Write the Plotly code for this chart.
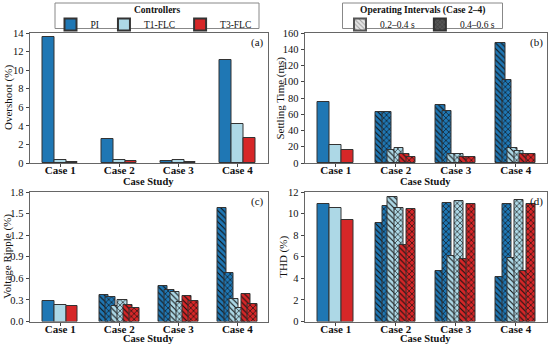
import plotly.graph_objects as go

# ---------------- data ----------------
cases = ["Case 1", "Case 2", "Case 3", "Case 4"]
controllers = ["PI", "T1-FLC", "T3-FLC"]
intervals = ["0.2–0.4 s", "0.4–0.6 s"]

# (a) Overshoot (%) - one value per case
overshoot_pi = [13.6, 2.6, 0.25, 11.1]
overshoot_t1 = [0.3, 0.3, 0.3, 4.25]
overshoot_t3 = [0.15, 0.25, 0.15, 2.7]

# (b) Settling time (ms): Case 1 (PI, T1, T3), then Cases 2-4 per interval
settling_case1 = [74.5, 22.5, 15.5]
settling_pi_a = [62.5, 71.5, 147.5]
settling_pi_b = [62.5, 63.5, 102.0]
settling_t1_a = [15.5, 11.5, 18.5]
settling_t1_b = [19.0, 11.5, 14.5]
settling_t3_a = [11.5, 7.5, 11.0]
settling_t3_b = [7.8, 7.0, 10.8]

# (c) Voltage ripple (%)
ripple_case1 = [0.285, 0.23, 0.22]
ripple_pi_a = [0.375, 0.495, 1.58]
ripple_pi_b = [0.335, 0.435, 0.675]
ripple_t1_a = [0.215, 0.405, 0.31]
ripple_t1_b = [0.30, 0.265, 0.19]
ripple_t3_a = [0.225, 0.35, 0.38]
ripple_t3_b = [0.185, 0.285, 0.25]

# (d) THD (%)
thd_case1 = [10.85, 10.5, 9.4]
thd_pi_a = [9.1, 4.65, 4.15]
thd_pi_b = [10.7, 10.95, 10.85]
thd_t1_a = [11.55, 6.1, 5.85]
thd_t1_b = [10.5, 11.15, 11.3]
thd_t3_a = [7.05, 5.75, 4.7]
thd_t3_b = [10.4, 10.85, 10.85]

# ---------------- style ----------------
FONT = "Liberation Serif"
COLORS = ["#1f77b4", "#add8e6", "#d62728"]
EDGE = "#333333"
W_FULL = 0.2
SLOT = [-0.2, 0.0, 0.2]
W_SPLIT = 0.16
D_SPLIT = 0.055
HATCH = dict(shape="\\", fgcolor="#111111", fgopacity=1, size=4, solidity=0.28, fillmode="overlay")
CROSS = dict(shape="x", fgcolor="#111111", fgopacity=1, size=4, solidity=0.3, fillmode="overlay")

fig = go.Figure()

def axes(i):
    s = "" if i == 1 else str(i)
    return "x" + s, "y" + s

case_idx = list(range(len(cases)))

# (a) plain grouped bars
for k, (name, vals) in enumerate(zip(controllers, [overshoot_pi, overshoot_t1, overshoot_t3])):
    fig.add_trace(go.Bar(
        x=case_idx, y=vals, width=W_FULL, offset=SLOT[k] - W_FULL / 2,
        marker=dict(color=COLORS[k], line=dict(color=EDGE, width=1)),
        name=name, legend="legend", showlegend=True, xaxis="x", yaxis="y"))

panels = [
    (2, settling_case1, [(settling_pi_a, settling_pi_b), (settling_t1_a, settling_t1_b), (settling_t3_a, settling_t3_b)]),
    (3, ripple_case1, [(ripple_pi_a, ripple_pi_b), (ripple_t1_a, ripple_t1_b), (ripple_t3_a, ripple_t3_b)]),
    (4, thd_case1, [(thd_pi_a, thd_pi_b), (thd_t1_a, thd_t1_b), (thd_t3_a, thd_t3_b)]),
]

for idx, case1_vals, split in panels:
    xa, ya = axes(idx)
    for k in range(3):
        fig.add_trace(go.Bar(
            x=[0], y=[case1_vals[k]], width=W_FULL, offset=SLOT[k] - W_FULL / 2,
            marker=dict(color=COLORS[k], line=dict(color=EDGE, width=1)),
            name=controllers[k], showlegend=False, xaxis=xa, yaxis=ya))
    for k in range(3):
        va, vb = split[k]
        fig.add_trace(go.Bar(
            x=case_idx[1:], y=va, width=W_SPLIT, offset=SLOT[k] - D_SPLIT - W_SPLIT / 2,
            marker=dict(color=COLORS[k], line=dict(color=EDGE, width=1), pattern=HATCH),
            name=controllers[k] + " " + intervals[0], showlegend=False, xaxis=xa, yaxis=ya))
        fig.add_trace(go.Bar(
            x=case_idx[1:], y=vb, width=W_SPLIT, offset=SLOT[k] + D_SPLIT - W_SPLIT / 2,
            marker=dict(color=COLORS[k], line=dict(color=EDGE, width=1), pattern=CROSS),
            name=controllers[k] + " " + intervals[1], showlegend=False, xaxis=xa, yaxis=ya))

# legend-only entries for operating intervals
fig.add_trace(go.Bar(x=[None], y=[None], name=intervals[0], legend="legend2",
                     marker=dict(color="#e6e6e6", line=dict(color="#555555", width=1),
                                 pattern=dict(shape="\\", fgcolor="#555555", size=4, solidity=0.3, fillmode="overlay")),
                     xaxis="x2", yaxis="y2"))
fig.add_trace(go.Bar(x=[None], y=[None], name=intervals[1], legend="legend2",
                     marker=dict(color="#555555", line=dict(color="#333333", width=1),
                                 pattern=dict(shape="x", fgcolor="#111111", size=4, solidity=0.3, fillmode="overlay")),
                     xaxis="x2", yaxis="y2"))

W, H = 550, 345
XL = [29.5 / W, 268 / W]
XR = [304.5 / W, 547 / W]
YT = [1 - 163 / H, 1 - 33 / H]
YB = [1 - 321.5 / H, 1 - 192 / H]

def xax(dom, anchor):
    return dict(domain=dom, anchor=anchor, range=[-0.52, 3.52], tickvals=case_idx,
                ticktext=["<b>%s</b>" % c for c in cases], ticks="outside", ticklen=3,
                tickcolor="#444", showline=True, mirror=True, linecolor="#666", linewidth=1,
                showgrid=False, zeroline=False, tickfont=dict(family=FONT, size=11, color="#111"),
                ticklabelstandoff=-6, automargin=False, fixedrange=True)

def yax(dom, anchor, rng, dtick, fmt=None):
    d = dict(domain=dom, anchor=anchor, range=rng, dtick=dtick, tick0=0, ticks="outside", ticklen=3,
             tickcolor="#444", showline=True, mirror=True, linecolor="#666", linewidth=1,
             showgrid=False, zeroline=False, tickfont=dict(family=FONT, size=10.5, color="#111"),
             automargin=False, fixedrange=True)
    if fmt:
        d["tickformat"] = fmt
    return d

legend_common = dict(orientation="h", xref="paper", yref="paper", yanchor="top",
                     xanchor="center", bgcolor="rgba(0,0,0,0)", borderwidth=0,
                     font=dict(family=FONT, size=9.5, color="#111"),
                     itemsizing="constant", tracegroupgap=0)

L1_CX, L2_CX = 153.5, 420
B1_CX, B1_HALF = 157, 102
B2_CX, B2_HALF = 422.5, 80

fig.update_layout(
    width=W, height=H, margin=dict(l=0, r=0, t=0, b=0),
    paper_bgcolor="white", plot_bgcolor="white",
    barmode="overlay", bargap=0,
    font=dict(family=FONT, size=11, color="#111"),
    xaxis=xax(XL, "y"), yaxis=yax(YT, "x", [0, 14], 2),
    xaxis2=xax(XR, "y2"), yaxis2=yax(YT, "x2", [0, 160], 20),
    xaxis3=xax(XL, "y3"), yaxis3=yax(YB, "x3", [0, 1.8], 0.3, ".1f"),
    xaxis4=xax(XR, "y4"), yaxis4=yax(YB, "x4", [0, 12], 2),
    legend=dict(legend_common, x=L1_CX / W, y=1 - 10 / H),
    legend2=dict(legend_common, x=L2_CX / W, y=1 - 10 / H),
    showlegend=True,
    shapes=[
        dict(type="rect", xref="paper", yref="paper", x0=(B1_CX - B1_HALF) / W, x1=(B1_CX + B1_HALF) / W,
             y0=1 - 28.5 / H, y1=1 - 3 / H, line=dict(color="#888", width=1), fillcolor="white", layer="above"),
        dict(type="rect", xref="paper", yref="paper", x0=(B2_CX - B2_HALF) / W, x1=(B2_CX + B2_HALF) / W,
             y0=1 - 28.5 / H, y1=1 - 3 / H, line=dict(color="#888", width=1), fillcolor="white", layer="above"),
    ],
)

ann = []
def add_text(text, x, y, angle=0, xanchor="center", yanchor="middle", size=11):
    ann.append(dict(text=text, x=x, y=y, xref="paper", yref="paper", showarrow=False,
                    textangle=angle, xanchor=xanchor, yanchor=yanchor,
                    font=dict(family=FONT, size=size, color="#111")))

# legend titles
add_text("<b>Controllers</b>", B1_CX / W, 1 - 10 / H, size=9.5)
add_text("<b>Operating Intervals (Case 2–4)</b>", B2_CX / W, 1 - 10 / H, size=9.5)
# y titles
add_text("Overshoot (%)", 8 / W, sum(YT) / 2, -90)
add_text("Settling Time (ms)", 279.5 / W, sum(YT) / 2, -90)
add_text("Voltage Ripple (%)", 8 / W, sum(YB) / 2, -90)
add_text("THD (%)", 284 / W, sum(YB) / 2, -90)
# x titles
for dom, ypx in [(XL, 181), (XR, 181), (XL, 338.5), (XR, 338.5)]:
    add_text("<b>Case Study</b>", sum(dom) / 2, 1 - ypx / H, size=10.5)
# panel labels
for lab, dom, ypx in [("(a)", XL, 42.5), ("(b)", XR, 42.5), ("(c)", XL, 201.5), ("(d)", XR, 201.5)]:
    add_text(lab, dom[1] - 2 / W, 1 - ypx / H, xanchor="right", size=11)

fig.update_layout(annotations=ann)

fig.write_html("out.html", config={"displayModeBar": False},
               post_script="document.body.style.margin='0px';document.body.style.padding='0px';"
                           "document.documentElement.style.overflow='hidden';")
